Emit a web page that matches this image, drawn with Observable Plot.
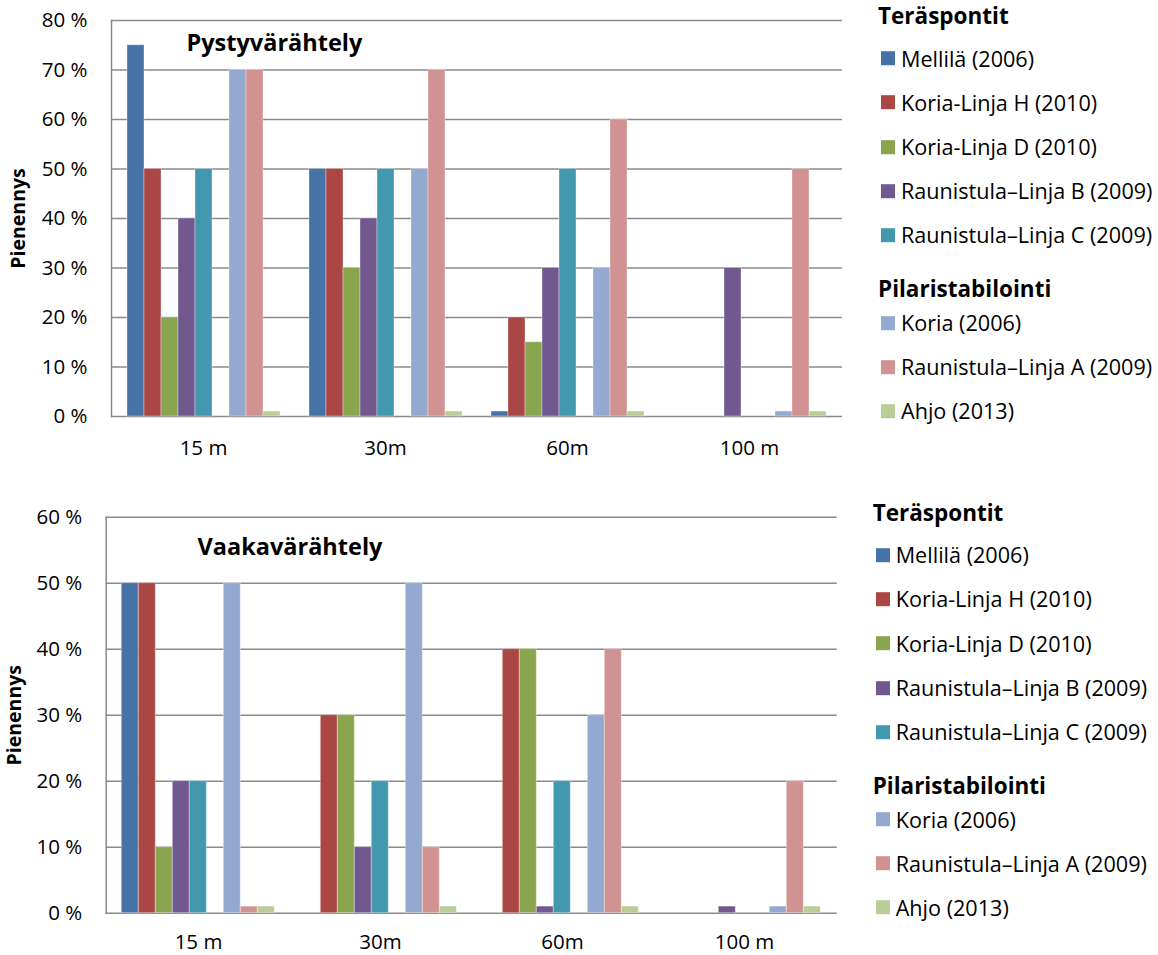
<!DOCTYPE html>
<html lang="fi">
<head>
<meta charset="utf-8">
<script src="https://cdn.jsdelivr.net/npm/d3@7"></script>
<script src="https://cdn.jsdelivr.net/npm/@observablehq/plot@0.6"></script>
<style>
  body { margin: 0; background: #fff; font-family: "Open Sans", sans-serif; color: #000; }
  #page { position: relative; width: 1158px; height: 955px; overflow: hidden; }
  .chart { position: absolute; left: 0; width: 1158px; }
  .chart svg { position: absolute; left: 0; top: 0; }
  .lg-head { position: absolute; font-weight: bold; font-size: 22.5px; line-height: 1; white-space: nowrap; transform: translateY(-50%); }
  .lg-item { position: absolute; font-size: 21.6px; line-height: 1; white-space: nowrap; display: flex; align-items: center; transform: translateY(-50%); }
  .lg-sw { width: 14px; height: 14px; margin-right: 6px; flex: none; }
</style>
</head>
<body>
<div id="page"></div>
<script>
// Measuring distances
const distances = ["15 m", "30m", "60m", "100 m"];

// Sites, grouped by reinforcement method
const sheetPileSites = [
  "Mellilä (2006)",
  "Koria-Linja H (2010)",
  "Koria-Linja D (2010)",
  "Raunistula–Linja B (2009)",
  "Raunistula–Linja C (2009)"
];
const columnSites = [
  "Koria (2006)",
  "Raunistula–Linja A (2009)",
  "Ahjo (2013)"
];
const siteColors = ["#4572A7", "#AA4643", "#89A54E", "#71588F", "#4198AF", "#93A9CF", "#D19392", "#B9CD96"];

// Reduction (%) per site, one row per site in the order above, one column per distance
const verticalReduction = [
  [75, 50, 1, 0],
  [50, 50, 20, 0],
  [20, 30, 15, 0],
  [40, 40, 30, 30],
  [50, 50, 50, 0],
  [70, 50, 30, 1],
  [70, 70, 60, 50],
  [1, 1, 1, 1]
];
const horizontalReduction = [
  [50, 0, 0, 0],
  [50, 30, 40, 0],
  [10, 30, 40, 0],
  [20, 10, 1, 1],
  [20, 20, 20, 0],
  [50, 50, 30, 1],
  [1, 10, 40, 20],
  [1, 1, 1, 1]
];

const verticalTicks = [0, 10, 20, 30, 40, 50, 60, 70, 80];
const horizontalTicks = [0, 10, 20, 30, 40, 50, 60];

const headings = ["Teräspontit", "Pilaristabilointi"];
const titles = ["Pystyvärähtely", "Vaakavärähtely"];
const yLabel = "Pienennys";

const sites = [...sheetPileSites, ...columnSites];
// an empty slot separates the two method groups inside each distance
const slots = [...sheetPileSites, "__gap__", ...columnSites];

const PLOT_W = 731, PLOT_H = 396, PAGE_W = 1158;
const FONT = "'Open Sans', sans-serif";

function barChart({values, ticks, title, top, left, marginTop, height, titleDx, titleDy, labelDx, labelPad}) {
  const rows = [];
  sites.forEach((site, i) => distances.forEach((distance, j) =>
    rows.push({site, distance, value: values[i][j]})));

  const fmt = d => `${d} %`;
  const grid = "#8a8a8a";
  const frame = {
    width: PAGE_W,
    height,
    marginLeft: left,
    marginRight: PAGE_W - left - PLOT_W,
    marginTop,
    marginBottom: height - marginTop - PLOT_H
  };
  const y = {domain: [0, ticks[ticks.length - 1]], axis: null};

  // underlay: gridlines, value axis, title and axis label across the whole plot area
  const under = Plot.plot({
    ...frame,
    style: {fontFamily: FONT, fontSize: "20.5px", color: "#000", background: "#fff", overflow: "visible"},
    y,
    marks: [
      Plot.ruleY(ticks, {y: d => d, stroke: grid, strokeWidth: 1.5}),
      Plot.frame({anchor: "left", stroke: grid, strokeWidth: 1.5}),
      Plot.text(ticks, {
        y: d => d, text: fmt, frameAnchor: "left", textAnchor: "end", dx: -24, fill: "#000"
      }),
      Plot.text([title], {
        text: d => d, frameAnchor: "top-left", lineAnchor: "top", textAnchor: "start",
        dx: titleDx, dy: titleDy, fontWeight: "bold", fontSize: 23.5, fill: "#000"
      }),
      Plot.text([yLabel], {
        text: d => d, frameAnchor: "left", rotate: -90, textAnchor: "middle", lineAnchor: "middle",
        dx: labelDx, fontWeight: "bold", fontSize: 19.5, fill: "#000"
      })
    ]
  });

  // overlay: grouped bars, one facet per distance
  const over = Plot.plot({
    ...frame,
    style: {fontFamily: FONT, fontSize: "20.5px", color: "#000", background: "transparent", overflow: "visible"},
    fx: {domain: distances, paddingInner: 0.1423, paddingOuter: 0.0711, label: null, tickSize: 0, tickPadding: labelPad, axis: "bottom"},
    x: {domain: slots, padding: 0, axis: null},
    y,
    color: {domain: sites, range: siteColors},
    marks: [
      Plot.barY(rows, {
        fx: "distance", x: "site", y: "value", fill: "site",
        stroke: "#fff", strokeOpacity: 0.35, strokeWidth: 1, inset: 0
      })
    ]
  });

  const wrap = document.createElement("div");
  wrap.className = "chart";
  wrap.style.top = `${top}px`;
  wrap.style.height = `${height}px`;
  wrap.append(under, over);

  // legend to the right of the plot area
  const plotTop = marginTop, plotRight = left + PLOT_W;
  const addHead = (text, yy) => {
    const h = document.createElement("div");
    h.className = "lg-head";
    h.textContent = text;
    h.style.left = `${plotRight + 36}px`;
    h.style.top = `${plotTop + yy}px`;
    wrap.appendChild(h);
  };
  const addItem = (site, yy) => {
    const it = document.createElement("div");
    it.className = "lg-item";
    it.style.left = `${plotRight + 39}px`;
    it.style.top = `${plotTop + yy}px`;
    const sw = document.createElement("span");
    sw.className = "lg-sw";
    sw.style.background = siteColors[sites.indexOf(site)];
    const tx = document.createElement("span");
    tx.textContent = site;
    it.append(sw, tx);
    wrap.appendChild(it);
  };
  addHead(headings[0], -4);
  sheetPileSites.forEach((s, i) => addItem(s, 38.5 + 44.2 * i));
  addHead(headings[1], 269);
  columnSites.forEach((s, i) => addItem(s, 303 + 44 * i));

  document.getElementById("page").appendChild(wrap);
}

barChart({values: verticalReduction, ticks: verticalTicks, title: titles[0],
  top: 0, left: 111, marginTop: 20, height: 470, titleDx: 75, titleDy: 14.3, labelDx: -93, labelPad: 24});
barChart({values: horizontalReduction, ticks: horizontalTicks, title: titles[1],
  top: 478, left: 105.7, marginTop: 38.7, height: 477, titleDx: 91.3, titleDy: 21.3, labelDx: -91, labelPad: 21});
</script>
</body>
</html>
